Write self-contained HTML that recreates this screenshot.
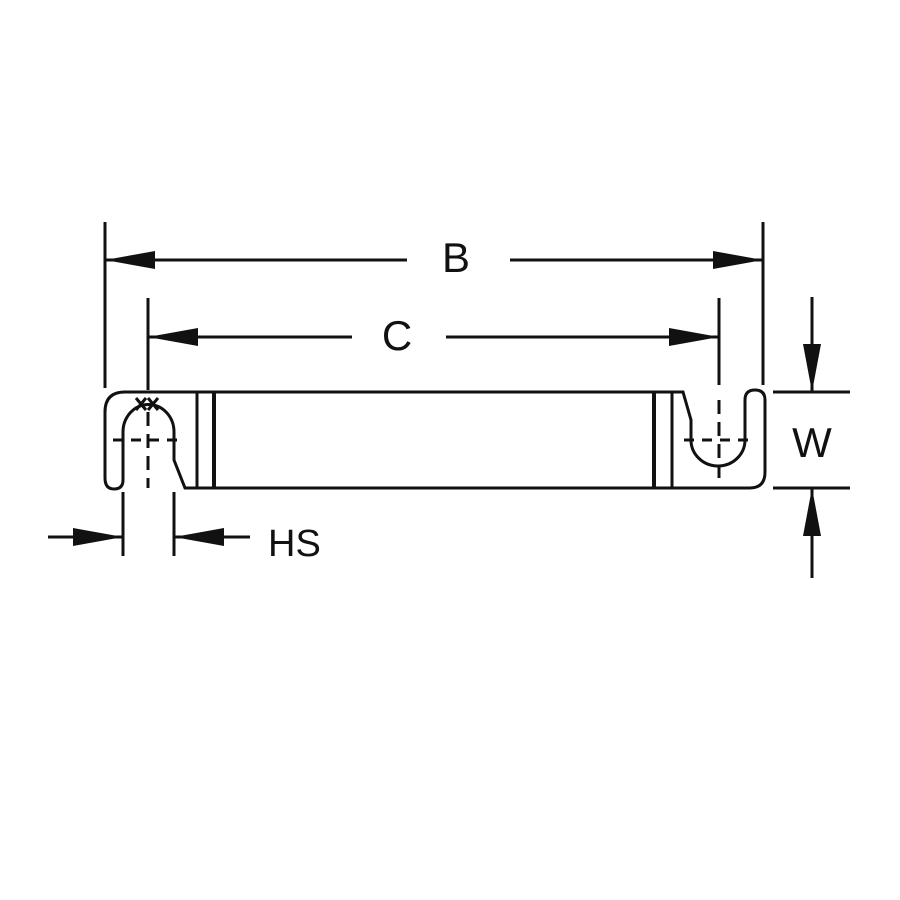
<!DOCTYPE html>
<html><head><meta charset="utf-8"><style>html,body{margin:0;padding:0;background:#fff}svg{display:block}</style></head>
<body>
<svg width="900" height="900" viewBox="0 0 900 900" xmlns="http://www.w3.org/2000/svg">
<g stroke="#111" stroke-width="3" fill="none" stroke-linecap="butt">
<!-- B dimension -->
<line x1="105" y1="222" x2="105" y2="388"/>
<line x1="763" y1="222" x2="763" y2="385"/>
<line x1="105" y1="260" x2="407" y2="260"/>
<line x1="510" y1="260" x2="763" y2="260"/>
<!-- C dimension -->
<line x1="148" y1="298" x2="148" y2="390"/>
<line x1="719" y1="298" x2="719" y2="385"/>
<line x1="148" y1="337" x2="352" y2="337"/>
<line x1="446" y1="337" x2="719" y2="337"/>
<!-- W -->
<line x1="773" y1="392" x2="850" y2="392"/>
<line x1="773" y1="488" x2="850" y2="488"/>
<line x1="812" y1="297" x2="812" y2="392"/>
<line x1="812" y1="488" x2="812" y2="578"/>
<!-- HS -->
<line x1="123" y1="492" x2="123" y2="556"/>
<line x1="174" y1="492" x2="174" y2="556"/>
<line x1="48" y1="537" x2="123" y2="537"/>
<line x1="174" y1="537" x2="250" y2="537"/>
<!-- Body outline -->
<path d="M123,480 L123,432 A25,27 0 0 1 174,432 L174,460 L185,488 L750,488 Q765,488 765,472 L765,400 Q765,390 755,390 Q745,390 745,400 L745,440 A27,26 0 0 1 691,440 L691,420 L683,392 L125,392 Q105,392 105,412 L105,478 Q105,489 114,489 Q123,489 123,480 Z"/>
<line x1="197" y1="392" x2="197" y2="488"/>
<line x1="214" y1="392" x2="214" y2="488" stroke-width="4"/>
<line x1="654" y1="392" x2="654" y2="488" stroke-width="4"/>
<line x1="672" y1="392" x2="672" y2="488"/>
<!-- center marks left -->
<line x1="113" y1="440" x2="183" y2="440" stroke-dasharray="10,8"/>
<line x1="148" y1="412" x2="148" y2="488" stroke-dasharray="14,8"/>
<!-- xx -->
<path d="M136,398 L146,410 M146,398 L136,410 M148,398 L158,410 M158,398 L148,410"/>
<!-- center marks right -->
<line x1="684" y1="440" x2="756" y2="440" stroke-dasharray="10,8"/>
<line x1="719" y1="400" x2="719" y2="478" stroke-dasharray="14,8"/>
</g>
<g fill="#111">
<!-- B arrows -->
<polygon points="105,260 155,251 155,269"/>
<polygon points="763,260 713,251 713,269"/>
<!-- C arrows -->
<polygon points="148,337 198,328 198,346"/>
<polygon points="719,337 669,328 669,346"/>
<!-- W arrows -->
<polygon points="812,392 803,344 821,344"/>
<polygon points="812,488 803,536 821,536"/>
<!-- HS arrows -->
<polygon points="123,537 73,528 73,546"/>
<polygon points="174,537 224,528 224,546"/>
</g>
<g font-family="Liberation Sans, sans-serif" font-size="42" fill="#111">
<text x="456" y="272" text-anchor="middle">B</text>
<text x="397" y="350" text-anchor="middle">C</text>
<text x="812" y="457" text-anchor="middle">W</text>
<text x="268" y="556" font-size="38">HS</text>
</g>
</svg>
</body></html>
